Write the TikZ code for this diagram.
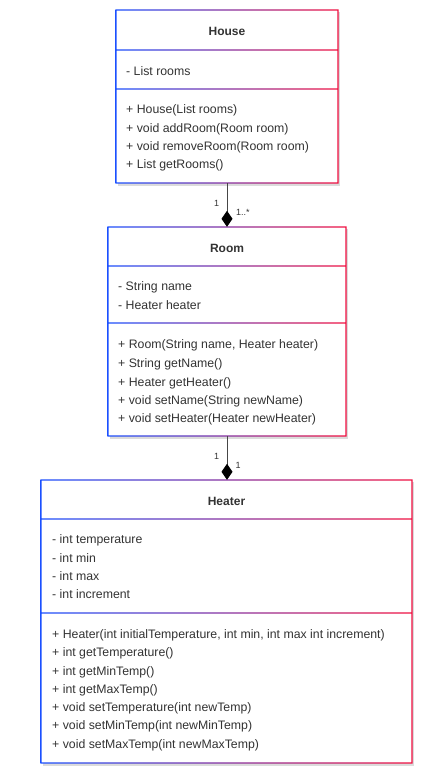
\documentclass[tikz,border=0pt]{standalone}
\usepackage{fontspec}
\setmainfont{Liberation Sans}
\usetikzlibrary{arrows.meta,fit}
\definecolor{gblue}{RGB}{27,80,255}
\definecolor{gred}{RGB}{242,16,64}
\definecolor{txt}{RGB}{51,51,51}
\definecolor{lnk}{RGB}{70,70,70}
\tikzset{
  member/.style={anchor=west, inner sep=0pt, text height=9.5pt, text depth=1pt,
    font=\fontsize{12.3}{14}\selectfont, text=txt},
  title/.style={inner sep=0pt, text height=9.5pt, text depth=1pt,
    font=\fontsize{12}{14}\selectfont\bfseries, text=txt},
  mult/.style={inner sep=0pt, font=\fontsize{9}{10}\selectfont, text=txt},
  umlframe/.style={inner sep=0pt, draw=none, rectangle},
  comp/.style={draw=lnk, line width=0.9pt, -{Diamond[length=16pt,width=11pt,color=black]}},
}
\newcommand\umlbox[7]{%
  \fill[black!14] ({#2+2},{#4+2}) rectangle ({#3+2},{#7+2.5});
  \fill[white] (#2,#4) rectangle (#3,#7);
  \shade[left color=gblue,right color=gred,even odd rule]
    ({#2-0.7},{#4-0.7}) rectangle ({#3+0.7},{#7+0.7})
    ({#2+0.7},{#4+0.7}) rectangle ({#3-0.7},{#5-0.7})
    ({#2+0.7},{#5+0.7}) rectangle ({#3-0.7},{#6-0.7})
    ({#2+0.7},{#6+0.7}) rectangle ({#3-0.7},{#7-0.7});
  \node[umlframe, fit={(#2,#4)(#3,#7)}, name=#1] {};
}
\begin{document}
\begin{tikzpicture}[x=1pt,y=-1pt]
\useasboundingbox[fill=white] (0,0) rectangle (441,773);

% House
\umlbox{house}{116}{338}{10}{50}{89}{183}
\node[title] (houseT) at (227,31) {House};
\node[member] (houseA1) at (126,71) {- List rooms};
\node[member] (houseM1) at (126,109) {+ House(List rooms)};
\node[member] (houseM2) at (126,128) {+ void addRoom(Room room)};
\node[member] (houseM3) at (126,146) {+ void removeRoom(Room room)};
\node[member] (houseM4) at (126,164) {+ List getRooms()};

% Room
\umlbox{room}{108}{346}{227}{266}{323}{436}
\node[title] (roomT) at (227,248) {Room};
\node[member] (roomA1) at (118,286) {- String name};
\node[member] (roomA2) at (118,305) {- Heater heater};
\node[member] (roomM1) at (118,344) {+ Room(String name, Heater heater)};
\node[member] (roomM2) at (118,363) {+ String getName()};
\node[member] (roomM3) at (118,382) {+ Heater getHeater()};
\node[member] (roomM4) at (118,400) {+ void setName(String newName)};
\node[member] (roomM5) at (118,418) {+ void setHeater(Heater newHeater)};

% Heater
\umlbox{heater}{41}{412}{480}{519}{613}{763}
\node[title] (heaterT) at (226.5,501) {Heater};
\node[member] (heaterA1) at (52,539) {- int temperature};
\node[member] (heaterA2) at (52,558) {- int min};
\node[member] (heaterA3) at (52,576) {- int max};
\node[member] (heaterA4) at (52,594) {- int increment};
\node[member] (heaterM1) at (52,634) {+ Heater(int initialTemperature, int min, int max int increment)};
\node[member] (heaterM2) at (52,652) {+ int getTemperature()};
\node[member] (heaterM3) at (52,671) {+ int getMinTemp()};
\node[member] (heaterM4) at (52,689) {+ int getMaxTemp()};
\node[member] (heaterM5) at (52,707) {+ void setTemperature(int newTemp)};
\node[member] (heaterM6) at (52,725) {+ void setMinTemp(int newMinTemp)};
\node[member] (heaterM7) at (52,744) {+ void setMaxTemp(int newMaxTemp)};

% connectors
\draw[comp] (house.south) -- (room.north);
\draw[comp] (room.south) -- (heater.north -| room.south);
\node[mult] (m1) at (216.5,203) {1};
\node[mult, anchor=west] (m2) at (236,212) {1..*};
\node[mult] (m3) at (216.5,456) {1};
\node[mult] (m4) at (238,465) {1};
\end{tikzpicture}
\end{document}
